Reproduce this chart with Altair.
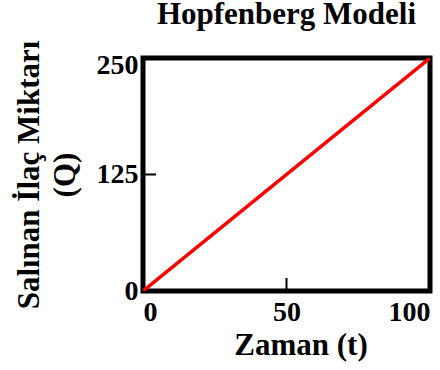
import altair as alt
import pandas as pd

# Hopfenberg release curve: time vs. released drug amount
t_values = [0, 100]
q_values = [0, 250]

x_ticks = [0, 50, 100]
y_ticks = [0, 125, 250]

FONT = "Liberation Serif"
W, H = 287, 233
TICK = 13

line_df = pd.DataFrame({"t": t_values, "Q": q_values})
xt_df = pd.DataFrame({"t": x_ticks})
yt_df = pd.DataFrame({"Q": y_ticks})

x_scale = alt.Scale(domain=[0, 100], nice=False, zero=False)
y_scale = alt.Scale(domain=[0, 250], nice=False, zero=False)

line = alt.Chart(line_df).mark_line(color="#ff0000", strokeWidth=3.5, clip=True).encode(
    x=alt.X("t:Q", scale=x_scale,
            axis=alt.Axis(values=x_ticks, title="Zaman (t)", domain=False, ticks=False,
                          labelFlush=True, labelPadding=7, titlePadding=4,
                          titleX=W / 2 + 14, format="d")),
    y=alt.Y("Q:Q", scale=y_scale,
            axis=alt.Axis(values=y_ticks, title=["Salınan İlaç Miktarı", "(Q)"],
                          domain=False, ticks=False, labelPadding=5, titlePadding=15,
                          titleLineHeight=36, format="d",
                          labelOffset={"condition": {"test": "datum.value == 250", "value": 7},
                                       "value": 0})),
)

# inward-pointing tick marks along the bottom and left frame
x_tick_marks = alt.Chart(xt_df).mark_rule(color="black", strokeWidth=2).encode(
    x=alt.X("t:Q", scale=x_scale),
    y=alt.value(H),
    y2=alt.value(H - TICK),
)
y_tick_marks = alt.Chart(yt_df).mark_rule(color="black", strokeWidth=2).encode(
    y=alt.Y("Q:Q", scale=y_scale),
    x=alt.value(0),
    x2=alt.value(TICK),
)

chart = (
    alt.layer(x_tick_marks, y_tick_marks, line)
    .properties(
        width=W,
        height=H,
        title=alt.TitleParams("Hopfenberg Modeli", font=FONT, fontSize=31,
                              fontWeight="bold", color="black", anchor="middle", offset=9),
        autosize=alt.AutoSizeParams(type="none"),
        padding={"left": 143, "top": 58, "right": 10, "bottom": 79},
        background="white",
    )
    .configure_view(stroke="black", strokeWidth=5)
    .configure_axis(
        grid=False,
        labelFont=FONT, labelFontSize=28, labelFontWeight="bold", labelColor="black",
        titleFont=FONT, titleFontSize=31, titleFontWeight="bold", titleColor="black",
    )
)

chart.save("out.html", embed_options={"renderer": "svg", "actions": False})
